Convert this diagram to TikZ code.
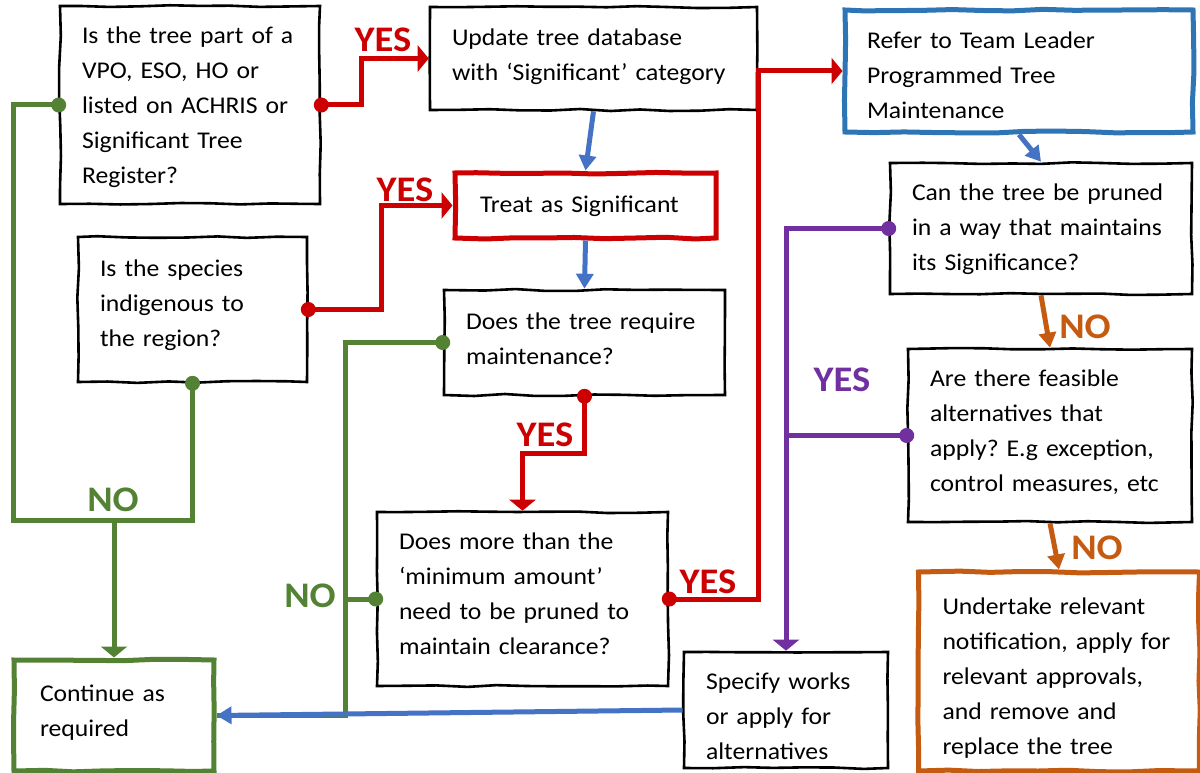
\documentclass[tikz,border=0pt]{standalone}
\usepackage{fontspec}
\setmainfont{Carlito}[FakeStretch=1.07]
\usetikzlibrary{arrows.meta,decorations.pathmorphing}
\definecolor{cred}{RGB}{204,0,0}
\definecolor{cgreen}{HTML}{548235}
\definecolor{cblue}{HTML}{4472C4}
\definecolor{cblueb}{HTML}{2E75B6}
\definecolor{cpurple}{HTML}{7030A0}
\definecolor{corange}{HTML}{C55A11}
\newcommand{\tlines}[2][0pt]{\vspace*{#1}\noindent\begin{tabular}{@{}l@{}}#2\end{tabular}}
\frenchspacing
\pgfmathsetseed{7}
\begin{document}
\begin{tikzpicture}[x=1pt,y=-1pt,
  box/.style={draw=black, line width=2.6pt, fill=white, inner xsep=22pt, inner ysep=0pt,
    align=left, font=\fontsize{24}{35}\selectfont,
    decorate, decoration={random steps,segment length=30pt,amplitude=1pt}},
  dim/.style n args={2}{minimum width=#1, minimum height=#2},
  thick box/.style={box, line width=5pt, draw=#1},
  lab/.style={font=\fontsize{36}{36}\selectfont\bfseries, inner sep=0pt},
  conn/.style={line width=5pt},
  flat/.style={-{Triangle[width=26pt,length=11pt]}},
  sharp/.style={-{Triangle[width=17pt,length=15pt]}},
]
\useasboundingbox (0,0) rectangle (1200,773);

% boxes
\node[box, dim={260pt}{198pt}, text width=216pt] (q1) at (190,105)
  {\tlines[-4pt]{Is the tree part of a\\VPO, ESO, HO or\\listed on ACHRIS or\\Significant Tree\\Register?}};
\node[box, dim={327pt}{103pt}, text width=283pt] (upd) at (593.5,58.5)
  {\tlines[5pt]{Update tree database\\with ‘Significant’ category}};
\node[thick box=cblueb, dim={348pt}{122pt}, text width=304pt] (refer) at (1019,71)
  {\tlines[-12pt]{Refer to Team Leader\\Programmed Tree\\Maintenance}};
\node[box, dim={302pt}{131pt}, text width=258pt] (q4) at (1041,228.5)
  {\tlines{Can the tree be pruned\\in a way that maintains\\its Significance?}};
\node[thick box=cred, dim={261pt}{65pt}, text width=211pt, inner xsep=25pt] (treat) at (585.5,205.5)
  {\tlines{Treat as Significant}};
\node[box, dim={229pt}{145pt}, text width=185pt] (q6) at (192.5,309.5)
  {\tlines[10pt]{Is the species\\indigenous to\\the region?}};
\node[box, dim={281pt}{105pt}, text width=237pt] (q7) at (584.5,342.5)
  {\tlines[5pt]{Does the tree require\\maintenance?}};
\node[box, dim={291pt}{174pt}, text width=247pt] (q8) at (522.5,599)
  {\tlines[8pt]{Does more than the\\‘minimum amount’\\need to be pruned to\\maintain clearance?}};
\node[box, dim={284pt}{173pt}, text width=240pt] (q9) at (1050,435.5)
  {\tlines[8pt]{Are there feasible\\alternatives that\\apply? E.g exception,\\control measures, etc}};
\node[thick box=corange, dim={281pt}{199pt}, text width=233pt, inner xsep=24pt] (q10) at (1059,671.5)
  {\tlines[-12pt]{Undertake relevant\\notification, apply for\\relevant approvals,\\and remove and\\replace the tree}};
\node[box, dim={204pt}{116pt}, text width=160pt] (spec) at (786,710)
  {\tlines[-14pt]{Specify works\\or apply for\\alternatives}};
\node[thick box=cgreen, dim={200pt}{111pt}, text width=148pt, inner xsep=26pt] (cont) at (114,715.5)
  {\tlines[8pt]{Continue as\\required}};

% helper coordinates
\coordinate (gA) at (13,520);
\coordinate (gB) at (345,0);

% green connectors
\draw[conn, cgreen] (q1.west) -| (gA) -| (q6.south);
\draw[conn, cgreen, flat] (cont.north |- gA) -- (cont.north);
\draw[conn, cgreen] (q7.west) -| (gB |- cont.east) -- (cont.east);
\draw[conn, cgreen] (q8.west) -- (gB |- q8.west);

% blue connectors
\draw[conn, cblue, sharp] (spec.west) -- (cont.east);
\draw[conn, cblue, sharp] (upd.south) -- (treat.north);
\draw[conn, cblue, sharp] (treat.south) -- (q7.north);
\draw[conn, cblue, sharp] (refer.south) -- (q4.north);

% red connectors
\draw[conn, cred, flat] (q1.east) -- ++(40,0) |- (upd.west);
\draw[conn, cred, flat] (q6.east) -- ++(73,0) |- (treat.west);
\draw[conn, cred, flat] (q7.south) -- ++(0,57) -| (q8.north);
\draw[conn, cred, flat] (q8.east) -- ++(89,0) |- (refer.west);

% purple connectors
\draw[conn, cpurple, flat] (q4.west) -| (spec.north);
\draw[conn, cpurple] (q9.west) -- (spec.north |- q9.west);

% orange connectors
\draw[conn, corange, sharp] (q4.south) -- (q9.north);
\draw[conn, corange, sharp] (q9.south) -- (q10.north);

% dots
\foreach \p/\c in {q1.east/cred, q6.east/cred, q7.south/cred, q8.east/cred,
  q1.west/cgreen, q6.south/cgreen, q7.west/cgreen, q8.west/cgreen,
  q4.west/cpurple, q9.west/cpurple}
  \fill[\c] (\p) circle (7.5);

% labels
\node[lab, text=cred] (y1) at (383,40) {YES};
\node[lab, text=cred] (y2) at (405,190) {YES};
\node[lab, text=cred] (y3) at (545,435) {YES};
\node[lab, text=cred] (y4) at (708,582) {YES};
\node[lab, text=cpurple] (y5) at (842,380) {YES};
\node[lab, text=cgreen] (n1) at (113,500) {NO};
\node[lab, text=cgreen] (n2) at (310,596) {NO};
\node[lab, text=corange] (n3) at (1085,327) {NO};
\node[lab, text=corange] (n4) at (1097,548) {NO};
\end{tikzpicture}
\end{document}
